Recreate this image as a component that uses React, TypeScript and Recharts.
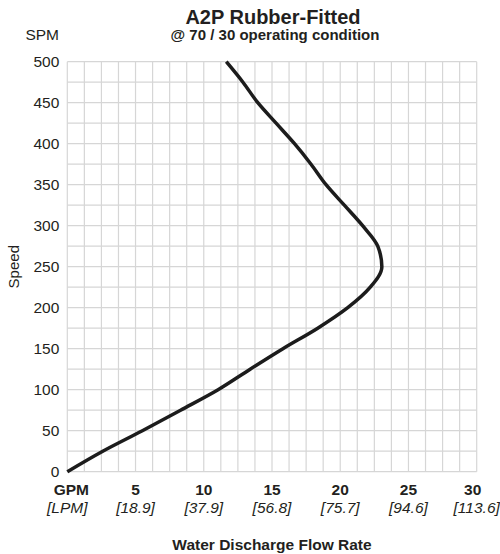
import React from 'react';
import { LineChart, Line, XAxis, YAxis, CartesianGrid } from 'recharts';

// speed (SPM) vs water discharge (GPM), every 25 SPM
const speedSpm = [0, 25, 50, 75, 100, 125, 150, 175, 200, 225, 250, 275, 300, 325, 350, 375, 400, 425, 450, 475, 500];
const flowGpm = [0, 2.6, 5.5, 8.3, 11.05, 13.4, 15.8, 18.35, 20.55, 22.2, 23.05, 22.75, 21.64, 20.3, 18.96, 17.86, 16.65, 15.3, 13.96, 12.87, 11.65];

const gpmTicks = [0, 5, 10, 15, 20, 25, 30];
const gpmLabels = ['GPM', '5', '10', '15', '20', '25', '30'];
const lpmLabels = ['[LPM]', '[18.9]', '[37.9]', '[56.8]', '[75.7]', '[94.6]', '[113.6]'];
const spmTicks = [0, 50, 100, 150, 200, 250, 300, 350, 400, 450, 500];

// grid spacing: 1.25 GPM by 25 SPM
const gpmGrid = [0, 1.25, 2.5, 3.75, 5, 6.25, 7.5, 8.75, 10, 11.25, 12.5, 13.75, 15, 16.25, 17.5, 18.75, 20, 21.25, 22.5, 23.75, 25, 26.25, 27.5, 28.75, 30];
const spmGrid = [0, 25, 50, 75, 100, 125, 150, 175, 200, 225, 250, 275, 300, 325, 350, 375, 400, 425, 450, 475, 500];

const data = speedSpm.map((spm, i) => ({ spm, gpm: flowGpm[i] }));

const FONT = '"Liberation Sans", Arial, Helvetica, sans-serif';
const INK = '#231f20';

const XTick = (props: any) => {
  const { x, y, payload } = props;
  const i = gpmTicks.indexOf(payload.value);
  if (i < 0) return <g />;
  const dx = i === 0 ? 4 : i === gpmTicks.length - 1 ? -4 : 0;
  return (
    <g>
      <text x={x + dx} y={y + 15.3} textAnchor="middle" fontFamily={FONT} fontSize={15.5} fontWeight="bold" fill={INK}>
        {gpmLabels[i]}
      </text>
      <text x={x} y={y + 33.3} textAnchor="middle" fontFamily={FONT} fontSize={15.5} fontStyle="italic" fill={INK}>
        {lpmLabels[i]}
      </text>
    </g>
  );
};

const YTick = (props: any) => {
  const { x, y, payload } = props;
  if (!spmTicks.includes(payload.value)) return <g />;
  return (
    <text x={x} y={y} dy={5.3} textAnchor="end" fontFamily={FONT} fontSize={15.5} fill={INK}>
      {payload.value}
    </text>
  );
};

export default function App() {
  return (
    <div style={{ position: 'absolute', left: 0, top: 0, width: 500, height: 554, background: '#fff' }}>
      <LineChart
        width={500}
        height={554}
        data={data}
        layout="vertical"
        margin={{ top: 61.7, right: 23.3, bottom: 0, left: 0 }}
      >
        <CartesianGrid stroke="#d6d6d6" strokeWidth={1.2} />
        <XAxis
          type="number"
          domain={[0, 30]}
          ticks={gpmGrid}
          interval={0}
          axisLine={false}
          tickLine={false}
          height={82.3}
          tick={<XTick />}
        />
        <YAxis
          type="number"
          dataKey="spm"
          domain={[0, 500]}
          ticks={spmGrid}
          interval={0}
          reversed
          axisLine={false}
          tickLine={false}
          width={67.3}
          tick={<YTick />}
        />
        <Line
          type="monotoneY"
          dataKey="gpm"
          stroke="#1c1c1c"
          strokeWidth={3.5}
          dot={false}
          activeDot={false}
          isAnimationActive={false}
        />
      </LineChart>
      <svg width={500} height={554} style={{ position: 'absolute', left: 0, top: 0, pointerEvents: 'none' }}>
        <text x={273} y={24} textAnchor="middle" fontFamily={FONT} fontSize={20} fontWeight="bold" fill={INK}>
          A2P Rubber-Fitted
        </text>
        <text x={275} y={40} textAnchor="middle" fontFamily={FONT} fontSize={15} fontWeight="bold" fill={INK}>
          @ 70 / 30 operating condition
        </text>
        <text x={59} y={39.5} textAnchor="end" fontFamily={FONT} fontSize={15.5} fill={INK}>
          SPM
        </text>
        <text
          x={19.5}
          y={266.7}
          transform="rotate(-90 19.5 266.7)"
          textAnchor="middle"
          fontFamily={FONT}
          fontSize={15}
          fill={INK}
        >
          Speed
        </text>
        <text x={272} y={550} textAnchor="middle" fontFamily={FONT} fontSize={15.5} fontWeight="bold" fill={INK}>
          Water Discharge Flow Rate
        </text>
      </svg>
    </div>
  );
}
